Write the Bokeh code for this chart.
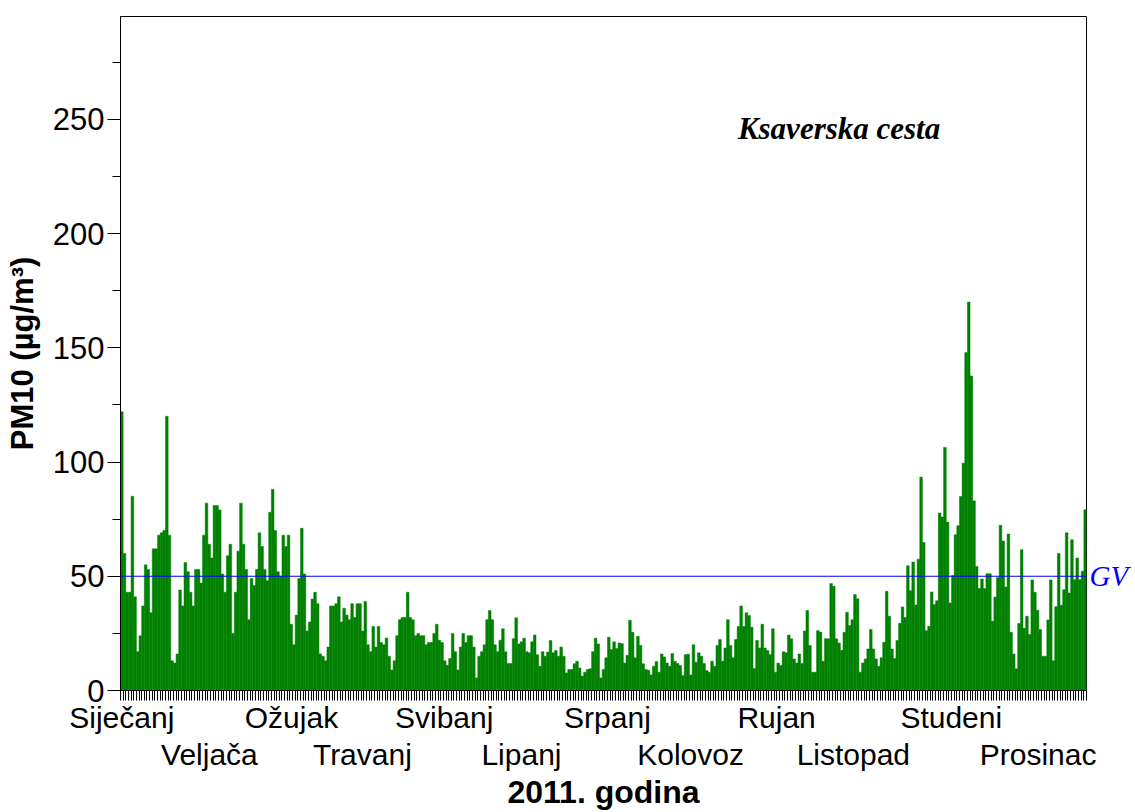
from bokeh.plotting import figure
from bokeh.models import Range1d, FixedTicker, Span, Label, ColumnDataSource, LinearAxis
from bokeh.embed import file_html
from bokeh.resources import INLINE

# ---- data: daily PM10 (µg/m³), Ksaverska cesta, 2011 ----
month_names = ["Siječanj", "Veljača", "Ožujak", "Travanj", "Svibanj", "Lipanj",
               "Srpanj", "Kolovoz", "Rujan", "Listopad", "Studeni", "Prosinac"]

jan = [122, 60, 43, 43, 85, 41, 17, 24, 37, 55, 53, 34, 62, 62, 68, 69, 70, 120, 68, 13,
       12, 16, 44, 37, 56, 52, 43, 37, 53, 53, 47]
feb = [68, 82, 64, 58, 81, 81, 79, 51, 43, 59, 64, 25, 43, 61, 82, 64, 53, 31, 49, 46,
       53, 69, 63, 53, 48, 78, 88, 70]
mar = [52, 50, 68, 63, 68, 29, 20, 33, 49, 71, 51, 26, 30, 40, 43, 38, 16, 15, 13, 19,
       37, 37, 38, 41, 30, 36, 33, 31, 38, 32, 38]
apr = [38, 26, 39, 20, 17, 28, 19, 28, 21, 20, 23, 15, 9, 13, 24, 31, 32, 32, 43, 32,
       31, 24, 25, 24, 24, 20, 21, 21, 25, 29]
may = [22, 21, 13, 11, 14, 25, 17, 9, 19, 25, 21, 24, 24, 19, 5.5, 15, 17, 20, 31, 35,
       31, 20, 17, 22, 27, 17, 11.8, 11.8, 22.7, 31.8, 20.4]
jun = [21.3, 22.9, 17, 16.5, 21.3, 24.3, 15.6, 10.6, 17, 15, 16.8, 21.9, 16.5, 17.5, 15,
       19, 15, 7.7, 9.2, 9.2, 11.7, 12.8, 9.9, 6.3, 8, 9.2, 9.5, 17, 22.9, 20.4]
jul = [5.5, 9.2, 14.3, 23.3, 17.9, 21.3, 18.4, 20.8, 20.5, 12, 15.4, 30.7, 25.5, 14.3,
       23.7, 19.7, 11.7, 9.2, 8.9, 6.8, 10.6, 12.7, 8, 16, 14.7, 12, 10.6, 16.2, 12.8,
       11.8, 10.9]
aug = [6.6, 15.7, 15.9, 6.8, 20, 12.4, 16.5, 15, 11.8, 8.7, 8, 12.8, 10.6, 19.7, 22.3,
       12.8, 18.6, 31, 19.7, 14.3, 22.3, 28, 37, 28, 34, 32.8, 27.7, 9.6, 21.9, 18.6, 29]
sep = [18.6, 17.5, 15.7, 27, 8, 12, 10.9, 17, 16.5, 24.3, 22.6, 13.8, 12, 16, 11.8, 26,
       35, 19.7, 8, 8, 26.2, 25.6, 12.8, 22.7, 22.6, 46.8, 45.6, 22.6, 20.8, 17.6]
oct_ = [25.5, 34.2, 28.4, 31, 42, 40.2, 8, 12, 13.8, 18.2, 26.7, 18.2, 13.8, 10.6, 14.3,
        21.1, 43.4, 32.5, 18.2, 14, 21.9, 29.4, 36.6, 32, 54.6, 43.7, 56.2, 37.4, 57.5,
        93.4, 64.8]
nov = [26.2, 28.1, 43.1, 37.6, 39.3, 77.7, 75.9, 106.4, 73.7, 38.3, 50.3, 68.2, 72.1,
       84.9, 99.5, 147.9, 170, 137.7, 83, 54.3, 44.6, 48.8, 44.6, 51.1, 51.1, 30.3, 40.9,
       49.5, 72.3, 65.4]
dec = [45.3, 68.5, 25.5, 16, 9.5, 29.3, 61.6, 27.2, 32.5, 24.5, 48.4, 43, 35.1, 26.7, 15,
       15, 30.9, 48.4, 13, 36.7, 60, 37.3, 44.1, 69, 42.7, 66, 48.5, 58, 48.5, 52.2, 79.1]

limit_value = 50          # GV - granična vrijednost
limit_label = "GV"
y_ticks = [0, 50, 100, 150, 200, 250]

# ---- layout (label anchor positions, in day units) ----
month_label_day = [0, 33.1, 64.1, 90.9, 121.8, 151.0, 183.5, 214.9, 247.4, 276.4, 313.4, 346.2]

values = jan + feb + mar + apr + may + jun + jul + aug + sep + oct_ + nov + dec
days = list(range(len(values)))
src = ColumnDataSource(dict(day=days, pm10=values))

FONT = "Liberation Sans"
SERIF = "Liberation Serif"

p = figure(width=1135, height=812, output_backend="svg", toolbar_location=None,
           x_range=Range1d(-0.5, len(values) - 0.5), y_range=Range1d(0, 295),
           min_border_left=120, min_border_right=49, min_border_top=16, min_border_bottom=121)
p.background_fill_color = "white"
p.border_fill_color = "white"
p.outline_line_color = "black"
p.outline_line_width = 1
p.grid.visible = False

p.vbar(x="day", top="pm10", width=1, source=src, fill_color="#008000",
       line_color="#008000", line_width=0.5)

p.add_layout(Span(location=limit_value, dimension="width", line_color="#0000ff", line_width=1))

# y axis
yax = p.yaxis[0]
yax.ticker = FixedTicker(ticks=y_ticks, minor_ticks=[t + 25 for t in y_ticks])
yax.major_tick_in = 0
yax.major_tick_out = 13
yax.minor_tick_in = 0
yax.minor_tick_out = 8
yax.major_tick_line_color = "black"
yax.minor_tick_line_color = "black"
yax.axis_line_color = "black"
yax.major_label_text_font = FONT
yax.major_label_text_font_size = "31px"
yax.major_label_text_color = "black"
yax.major_label_standoff = 3
yax.axis_label = "PM10 (µg/m³)"
yax.axis_label_text_font = FONT
yax.axis_label_text_font_style = "bold"
yax.axis_label_text_font_size = "31px"
yax.axis_label_text_color = "black"
yax.axis_label_standoff = 10

# right axis carrying only the "GV" mark of the limit line
rax = LinearAxis(ticker=FixedTicker(ticks=[limit_value], minor_ticks=[]),
                 major_label_overrides={limit_value: limit_label})
rax.axis_line_color = None
rax.major_tick_line_color = None
rax.minor_tick_line_color = None
rax.major_tick_in = 0
rax.major_tick_out = 0
rax.minor_tick_in = 0
rax.minor_tick_out = 0
rax.major_label_standoff = 3
rax.major_label_text_font = SERIF
rax.major_label_text_font_style = "italic"
rax.major_label_text_font_size = "29px"
rax.major_label_text_color = "#0000ff"
p.add_layout(rax, "right")

# x axis, first row: odd months; a small tick for every day
odd_pos = month_label_day[0::2]
even_pos = month_label_day[1::2]
xax = p.xaxis[0]
xax.ticker = FixedTicker(ticks=odd_pos, minor_ticks=[d - 0.5 for d in range(len(values) + 1)])
xax.major_label_overrides = {pos: name for pos, name in zip(odd_pos, month_names[0::2])}
xax.major_tick_in = 0
xax.major_tick_out = 10
xax.major_tick_line_color = None
xax.minor_tick_in = 0
xax.minor_tick_out = 10
xax.minor_tick_line_color = "black"
xax.axis_line_color = "black"
xax.major_label_text_font = FONT
xax.major_label_text_font_size = "30px"
xax.major_label_text_color = "black"
xax.major_label_standoff = 0

# x axis, second row: even months + axis title
xax2 = LinearAxis(ticker=FixedTicker(ticks=even_pos, minor_ticks=[]),
                  major_label_overrides={pos: name for pos, name in zip(even_pos, month_names[1::2])})
xax2.axis_line_color = None
xax2.major_tick_line_color = None
xax2.minor_tick_line_color = None
xax2.major_tick_in = 0
xax2.major_tick_out = 0
xax2.minor_tick_in = 0
xax2.minor_tick_out = 0
xax2.major_label_text_font = FONT
xax2.major_label_text_font_size = "30px"
xax2.major_label_text_color = "black"
xax2.major_label_standoff = 1
xax2.axis_label = "2011. godina"
xax2.axis_label_text_font = FONT
xax2.axis_label_text_font_style = "bold"
xax2.axis_label_text_font_size = "32px"
xax2.axis_label_text_color = "black"
xax2.axis_label_standoff = 0
p.add_layout(xax2, "below")

p.add_layout(Label(x=271, y=246, text="Ksaverska cesta", text_align="center",
                   text_baseline="middle", text_font=SERIF, text_font_style="bold italic",
                   text_font_size="31px", text_color="black"))

open("out.html", "w").write(file_html(p, INLINE))
